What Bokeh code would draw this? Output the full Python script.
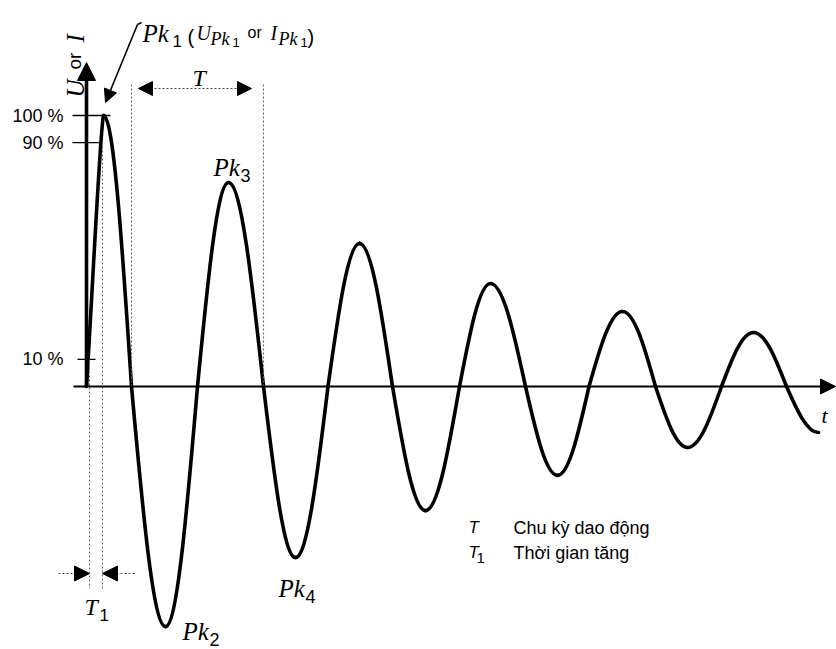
import math
from bokeh.plotting import figure
from bokeh.models import Range1d, Arrow, NormalHead, Label
from bokeh.embed import file_html
from bokeh.resources import INLINE

# ---------------- data ----------------
# time axis in arbitrary units, amplitude in % of the first peak
cross_t = [0, 45, 111, 177, 241.5, 306, 373, 439, 502.5, 569, 635, 700]   # zero crossings
peak_t = [17, 79, 142, 209, 273, 339, 404, 471, 536, 601, 667, 732]        # peak times
peak_v = [100, -88.6, 75.3, -63.1, 52.8, -45.8, 38.0, -32.8, 27.7, -22.5, 19.9, -17.0]
peak_names = ["1", "2", "3", "4"]
level_vals = [100, 90, 10]
level_labels = ["100 %", "90 %", "10 %"]
rise_t = [3, 16]            # instants where the front passes 10 % and 90 %
legend_keys = ["T", "T"]
legend_subs = ["", "1"]
legend_texts = ["Chu kỳ dao động", "Thời gian tăng"]

# ---------------- layout helpers (picture pixels -> data) ----------------
X0, Y0, PXY = 86, 386, 2.71
def dx(px):
    return px - X0
def dy(py):
    return (Y0 - py) / PXY

W, H = 836, 649
p = figure(width=W, height=H, x_range=Range1d(dx(0), dx(W)),
           y_range=Range1d(dy(H), dy(0)), output_backend="svg",
           toolbar_location=None, min_border=0)
p.xaxis.visible = False
p.yaxis.visible = False
p.grid.visible = False
p.outline_line_color = None
p.background_fill_color = "white"

SERIF = "Liberation Serif"
SANS = "Liberation Sans"
INK = "black"

def label(x, y, text, font=SANS, style="normal", size="18px", **kw):
    p.add_layout(Label(x=x, y=y, text=text, text_font=font, text_font_style=style,
                       text_font_size=size, text_color=INK,
                       text_baseline=kw.pop("text_baseline", "alphabetic"), **kw))

# ---------------- the damped oscillation (cubic bezier quarters) ----------------
bx0, by0, bx1, by1, bcx0, bcy0, bcx1, bcy1 = [], [], [], [], [], [], [], []
for i in range(len(peak_t)):
    xc, xp, a = cross_t[i], peak_t[i], peak_v[i]
    w = xp - xc
    if i == 0:
        c0 = (xc + 0.35 * w, 0.35 * a); c1 = (xc + 0.82 * w, 0.97 * a)
    else:
        c0 = (xc + 0.3343 * w, 0.5251 * a); c1 = (xc + 0.6401 * w, a)
    bx0.append(xc); by0.append(0); bx1.append(xp); by1.append(a)
    bcx0.append(c0[0]); bcy0.append(c0[1]); bcx1.append(c1[0]); bcy1.append(c1[1])
    if i + 1 < len(cross_t):
        xn = cross_t[i + 1]
        w = xn - xp
        bx0.append(xp); by0.append(a); bx1.append(xn); by1.append(0)
        bcx0.append(xp + 0.3599 * w); bcy0.append(a)
        bcx1.append(xp + 0.6657 * w); bcy1.append(0.5251 * a)
p.bezier(x0=bx0, y0=by0, x1=bx1, y1=by1, cx0=bcx0, cy0=bcy0, cx1=bcx1, cy1=bcy1,
         line_color=INK, line_width=3.6, line_cap="round")

# ---------------- axes ----------------
p.add_layout(Arrow(end=NormalHead(size=15, fill_color=INK, line_color=INK),
                   x_start=dx(73), y_start=0, x_end=dx(835), y_end=0,
                   line_color=INK, line_width=2))
p.add_layout(Arrow(end=NormalHead(size=18, fill_color=INK, line_color=INK),
                   x_start=0, y_start=0, x_end=0, y_end=dy(62),
                   line_color=INK, line_width=3.6))

# level ticks
tick_x0 = [dx(72), dx(72), dx(77)]
tick_x1 = [dx(110), dx(100), dx(95)]
p.segment(x0=tick_x0, y0=level_vals, x1=tick_x1, y1=level_vals,
          line_color=INK, line_width=1.3)
for v, lab in zip(level_vals, level_labels):
    label(dx(63), v, lab, size="18px", text_align="right", text_baseline="middle")

# axis names
label(dx(75), dy(97), "U", SERIF, "italic", "25px", angle=math.pi / 2)
label(dx(74), dy(69), "or", SANS, "normal", "19px", angle=math.pi / 2)
label(dx(75), dy(42), "I", SERIF, "italic", "25px", angle=math.pi / 2)
label(dx(821), dy(415), "t", SERIF, "italic", "22px")

# ---------------- dotted guide lines ----------------
guide = dict(line_color="#666666", line_width=1.1, line_dash="2 2")
p.segment(x0=rise_t, y0=[level_vals[2], level_vals[1]], x1=rise_t,
          y1=[dy(588), dy(588)], **guide)
p.segment(x0=[cross_t[1], cross_t[3]], y0=[0, 0], x1=[cross_t[1], cross_t[3]],
          y1=[dy(84), dy(84)], **guide)

# period arrow T
yT = dy(88)
p.add_layout(Arrow(start=NormalHead(size=14, fill_color=INK, line_color=INK),
                   end=NormalHead(size=14, fill_color=INK, line_color=INK),
                   x_start=cross_t[1] + 7, y_start=yT, x_end=cross_t[3] - 12, y_end=yT,
                   line_color="#444444", line_width=1.1, line_dash="2 2"))
label(dx(192), dy(77), "T", SERIF, "italic", "24px")

# rise time arrows T1
yT1 = dy(573)
p.add_layout(Arrow(end=NormalHead(size=15, fill_color=INK, line_color=INK),
                   x_start=dx(58), y_start=yT1, x_end=rise_t[0], y_end=yT1,
                   line_color="#444444", line_width=1.1, line_dash="2 2"))
p.add_layout(Arrow(end=NormalHead(size=15, fill_color=INK, line_color=INK),
                   x_start=dx(134), y_start=yT1, x_end=rise_t[1], y_end=yT1,
                   line_color="#444444", line_width=1.1, line_dash="2 2"))
label(dx(84), dy(606), "T", SERIF, "italic", "24px")
label(dx(99), dy(614), "1", SANS, "normal", "17px")

# ---------------- peak labels ----------------
def pk_label(x, y):
    label(x, y, "Pk", SERIF, "italic", "25px")

# Pk1 with its annotation
pk_label(dx(142), dy(33))
label(dx(172), dy(40), peak_names[0], SANS, "normal", "17px")
pieces = [  # (px, baseline, text, font, style, size)
    (187, 36, "(", SANS, "normal", "20px"),
    (196, 32, "U", SERIF, "italic", "20px"),
    (210, 38, "Pk", SERIF, "italic", "18px"),
    (232, 42, peak_names[0], SANS, "normal", "13px"),
    (247, 32, "or", SANS, "normal", "16px"),
    (270, 32, "I", SERIF, "italic", "20px"),
    (278, 38, "Pk", SERIF, "italic", "18px"),
    (300, 42, peak_names[0], SANS, "normal", "13px"),
    (307, 36, ")", SANS, "normal", "20px"),
]
for px, py, t, f, s, z in pieces:
    label(dx(px), dy(py), t, f, s, z)
p.segment(x0=[dx(141)], y0=[dy(22)], x1=[dx(137)], y1=[dy(24)],
          line_color=INK, line_width=1.6)
p.add_layout(Arrow(end=NormalHead(size=13, fill_color=INK, line_color=INK),
                   x_start=dx(137), y_start=dy(24), x_end=dx(105), y_end=dy(102),
                   line_color=INK, line_width=1.6))

# Pk2..Pk4 anchored to their peaks (offsets in pixels)
offsets = {1: (17, 5), 2: (-15, -15), 3: (-17, 31)}
for k, (ox, oy) in offsets.items():
    lx = peak_t[k] + ox
    ly = peak_v[k] - oy / PXY
    pk_label(lx, ly)
    label(lx + 27, ly - 8 / PXY, peak_names[k], SANS, "normal", "18px")

# ---------------- legend ----------------
for j, (key, sub, txt) in enumerate(zip(legend_keys, legend_subs, legend_texts)):
    base = 527 + 25 * j
    label(dx(468), dy(base), key, SANS, "italic", "17px")
    if sub:
        label(dx(476), dy(base + 5), sub, SANS, "normal", "15px")
    label(dx(513), dy(base), txt, SANS, "normal", "18px")

open("out.html", "w").write(file_html(p, INLINE))
